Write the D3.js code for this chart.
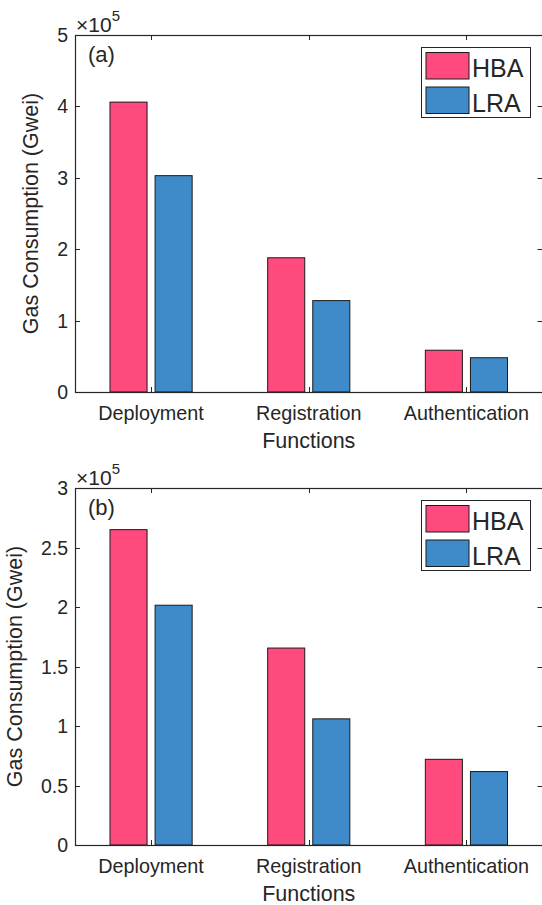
<!DOCTYPE html>
<html><head><meta charset="utf-8">
<script src="https://cdn.jsdelivr.net/npm/d3@7"></script>
<style>body{margin:0;background:#fff}svg{display:block}text{font-family:"Liberation Sans",Arial,sans-serif;fill:#262626}</style>
</head><body>
<script>
const categories = ["Deployment", "Registration", "Authentication"];
const seriesNames = ["HBA", "LRA"];
const colors = ["#FF4A7D", "#3F8AC8"];
const hbaA = [4.06e5, 1.88e5, 0.585e5];
const lraA = [3.03e5, 1.28e5, 0.48e5];
const hbaB = [2.65e5, 1.655e5, 0.72e5];
const lraB = [2.015e5, 1.06e5, 0.617e5];
const yTicksA = [0, 1, 2, 3, 4, 5];
const yTicksB = [0, 0.5, 1, 1.5, 2, 2.5, 3];
const panels = [
  {tag: "(a)", hba: hbaA, lra: lraA, ticks: yTicksA, ymax: 5, top: 35, bottom: 392, ylabX: 38},
  {tag: "(b)", hba: hbaB, lra: lraB, ticks: yTicksB, ymax: 3, top: 488, bottom: 845, ylabX: 22}
];

const W = 542, H = 905, L = 75, R = 542.5;
const svg = d3.select("body").append("svg").attr("width", W).attr("height", H);
const axisColor = "#262626";

panels.forEach(p => {
  const g = svg.append("g");
  const x = d3.scaleLinear().domain([0.5175, 3.4825]).range([L, R]);
  const y = d3.scaleLinear().domain([0, p.ymax]).range([p.bottom, p.top]);
  const off = 0.143, bw = 0.235;
  const data = [p.hba, p.lra];
  data.forEach((vals, s) => {
    g.selectAll(null).data(vals).enter().append("rect")
      .attr("x", (d, i) => x(i + 1 + (s === 0 ? -off : off) - bw / 2))
      .attr("width", x(bw) - x(0))
      .attr("y", d => y(d / 1e5))
      .attr("height", d => y(0) - y(d / 1e5))
      .attr("fill", colors[s]).attr("stroke", "#1a1a1a").attr("stroke-width", 1);
  });
  // box
  g.append("rect").attr("x", L + 0.5).attr("y", p.top + 0.5).attr("width", R - L).attr("height", p.bottom - p.top)
    .attr("fill", "none").attr("stroke", axisColor).attr("stroke-width", 1.2);
  // y ticks
  p.ticks.forEach(t => {
    const yy = Math.round(y(t)) + 0.5;
    g.append("line").attr("x1", L).attr("x2", L + 5).attr("y1", yy).attr("y2", yy).attr("stroke", axisColor);
    g.append("line").attr("x1", R - 5).attr("x2", R).attr("y1", yy).attr("y2", yy).attr("stroke", axisColor);
    g.append("text").attr("x", L - 7).attr("y", y(t) + 7).attr("text-anchor", "end")
      .attr("font-size", 19.5).text(d3.format("~g")(t));
  });
  // x ticks
  categories.forEach((c, i) => {
    const xx = Math.round(x(i + 1)) + 0.5;
    g.append("line").attr("x1", xx).attr("x2", xx).attr("y1", p.bottom).attr("y2", p.bottom - 5).attr("stroke", axisColor);
    g.append("line").attr("x1", xx).attr("x2", xx).attr("y1", p.top).attr("y2", p.top + 5).attr("stroke", axisColor);
    g.append("text").attr("x", x(i + 1)).attr("y", p.bottom + 28).attr("text-anchor", "middle")
      .attr("font-size", 19.8).text(c);
  });
  g.append("text").attr("x", x(2)).attr("y", p.bottom + 56).attr("text-anchor", "middle")
    .attr("font-size", 21.5).text("Functions");
  g.append("text").attr("transform", `translate(${p.ylabX},${(p.top + p.bottom) / 2}) rotate(-90)`)
    .attr("text-anchor", "middle").attr("font-size", 21.5).text("Gas Consumption (Gwei)");
  // exponent
  const ex = g.append("text").attr("x", 76).attr("y", p.top - 3).attr("font-size", 21);
  ex.append("tspan").text("\u00d710");
  ex.append("tspan").attr("dy", -11).attr("font-size", 15).text("5");
  g.append("text").attr("x", 88).attr("y", p.top + 27).attr("font-size", 22).text(p.tag);
  // legend
  const lg = g.append("g").attr("transform", `translate(421,${p.top + 12})`);
  lg.append("rect").attr("x", 0.5).attr("y", 0.5).attr("width", 109).attr("height", 70)
    .attr("fill", "#fff").attr("stroke", axisColor).attr("stroke-width", 1);
  seriesNames.forEach((n, s) => {
    lg.append("rect").attr("x", 5).attr("y", 5.5 + s * 34.5).attr("width", 43).attr("height", 26.5)
      .attr("fill", colors[s]).attr("stroke", "#1a1a1a");
    lg.append("text").attr("x", 51).attr("y", 30 + s * 34.5).attr("font-size", 25).attr("fill", "#000").text(n);
  });
});
</script>
</body></html>
